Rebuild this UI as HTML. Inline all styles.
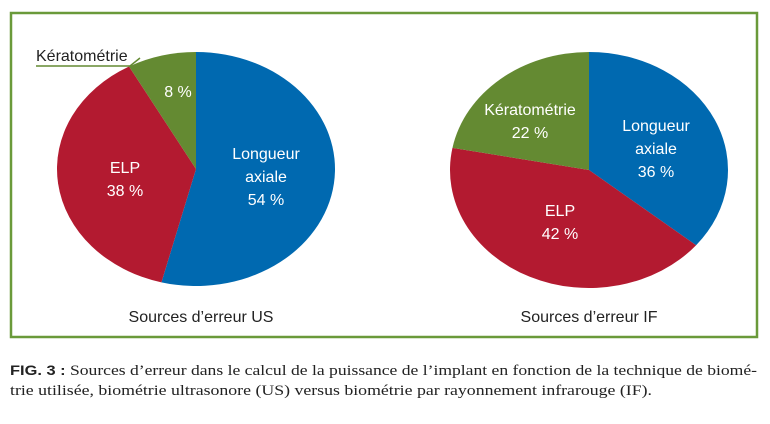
<!DOCTYPE html>
<html><head><meta charset="utf-8"><style>
body{margin:0;background:#fff;}
svg{display:block;font-family:"Liberation Sans",sans-serif;}
</style></head><body>
<svg width="770" height="424" viewBox="0 0 770 424">
<rect x="11" y="13" width="746" height="324" fill="none" stroke="#6a9a3a" stroke-width="2.5"/>
<g id="pies"></g>
<text x="36" y="61" font-size="16" fill="#222">Kératométrie</text>
<polyline points="36,66 130,66 140,58" fill="none" stroke="#648a32" stroke-width="1.5"/>
<text x="201" y="322" font-size="16" fill="#222" text-anchor="middle">Sources d’erreur US</text>
<text x="589" y="322" font-size="16" fill="#222" text-anchor="middle">Sources d’erreur IF</text>
<text x="10" y="375" font-family="Liberation Serif,serif" font-size="15" fill="#222" textLength="747" lengthAdjust="spacingAndGlyphs"><tspan font-family="Liberation Sans,sans-serif" font-weight="bold" font-size="14">FIG. 3 :</tspan> Sources d’erreur dans le calcul de la puissance de l’implant en fonction de la technique de biomé-</text>
<text x="10" y="395" font-family="Liberation Serif,serif" font-size="15" fill="#222" textLength="642" lengthAdjust="spacingAndGlyphs">trie utilisée, biométrie ultrasonore (US) versus biométrie par rayonnement infrarouge (IF).</text>
</svg>
<script>
const categories=["Longueur axiale","ELP","Kératométrie"];
const valuesUS=[54,38,8];
const valuesIF=[36,42,22];
const colors=["#0069b0","#b31a30","#648a32"];
const g=document.getElementById('pies');
const NS="http://www.w3.org/2000/svg";
function pie(cx,cy,rx,ry,vals,key,labels){
  const tot=vals.reduce((a,b)=>a+b,0);let a0=0;
  vals.forEach((v,i)=>{
    const a1=a0+v/tot*2*Math.PI;
    const x0=cx+rx*Math.sin(a0),y0=cy-ry*Math.cos(a0),x1=cx+rx*Math.sin(a1),y1=cy-ry*Math.cos(a1);
    const p=document.createElementNS(NS,'path');
    p.setAttribute('d',`M${cx},${cy}L${x0},${y0}A${rx},${ry} 0 ${a1-a0>Math.PI?1:0} 1 ${x1},${y1}Z`);
    p.setAttribute('fill',colors[i]);
    
    
    g.appendChild(p);
    const lab=labels[i];
    lab.lines.concat([v+' %']).forEach((t,j)=>{
      const tx=document.createElementNS(NS,'text');
      tx.setAttribute('x',lab.x);tx.setAttribute('y',lab.y+j*23);
      tx.setAttribute('text-anchor','middle');tx.setAttribute('font-size','16');tx.setAttribute('fill','#fff');
      tx.textContent=t;
      
      
      g.appendChild(tx);
    });
    a0=a1;
  });
}
pie(196,169,139,117,valuesUS,'us',[{x:266,y:159,lines:["Longueur","axiale"]},{x:125,y:173,lines:["ELP"]},{x:178,y:97,lines:[]}]);
pie(589,170,139,118,valuesIF,'if',[{x:656,y:131,lines:["Longueur","axiale"]},{x:560,y:216,lines:["ELP"]},{x:530,y:115,lines:["Kératométrie"]}]);
</script>
</body></html>
